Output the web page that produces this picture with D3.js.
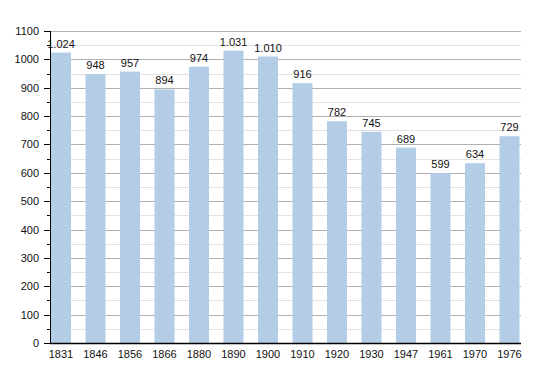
<!DOCTYPE html>
<html>
<head>
<meta charset="utf-8">
<script src="https://cdn.jsdelivr.net/npm/d3@7"></script>
<style>
  body { margin: 0; background: #fff; }
  svg { display: block; font-family: "Liberation Sans", Arial, sans-serif; }
</style>
</head>
<body>
<div id="chart"></div>
<script>
const years = ['1831', '1846', '1856', '1866', '1880', '1890', '1900', '1910', '1920', '1930', '1947', '1961', '1970', '1976'];
const population = [1024, 948, 957, 894, 974, 1031, 1010, 916, 782, 745, 689, 599, 634, 729];
const yTicks = d3.range(0, 1101, 100);
const yMinorTicks = d3.range(50, 1100, 100);

const width = 550;
const height = 373;
const plot = { left: 50, right: 521, top: 31, bottom: 343 };

const svg = d3.select('#chart').append('svg')
  .attr('width', width)
  .attr('height', height);

const x = d3.scaleBand()
  .domain(years)
  .range([plot.left + 1, 519.5])
  .paddingInner(0.42)
  .paddingOuter(0);

const y = d3.scaleLinear()
  .domain([0, 1100])
  .range([plot.bottom, plot.top]);

const py = d => Math.round(y(d)) + 0.5;

// grid
svg.append('g')
  .selectAll('line')
  .data(yMinorTicks)
  .join('line')
  .attr('x1', plot.left)
  .attr('x2', plot.right)
  .attr('y1', py)
  .attr('y2', py)
  .attr('stroke', '#e2e2e2');

svg.append('g')
  .selectAll('line')
  .data(yTicks.filter(d => d > 0))
  .join('line')
  .attr('x1', plot.left)
  .attr('x2', plot.right)
  .attr('y1', py)
  .attr('y2', py)
  .attr('stroke', '#b0b0b0');

// bars
svg.append('g')
  .selectAll('rect')
  .data(population)
  .join('rect')
  .attr('x', (d, i) => x(years[i]))
  .attr('y', d => y(d))
  .attr('width', x.bandwidth())
  .attr('height', d => plot.bottom - y(d))
  .attr('fill', '#b3cde7');

// value labels
svg.append('g')
  .selectAll('text')
  .data(population)
  .join('text')
  .attr('x', (d, i) => x(years[i]) + x.bandwidth() / 2)
  .attr('y', d => y(d) - 5)
  .attr('text-anchor', 'middle')
  .attr('font-size', 11)
  .attr('fill', '#111')
  .text(d => d3.format(',')(d).replace(',', '.'));

// y axis
const yAxis = svg.append('g');
yAxis.append('line')
  .attr('x1', plot.left + 0.5).attr('x2', plot.left + 0.5)
  .attr('y1', plot.top).attr('y2', plot.bottom)
  .attr('stroke', '#000');
yAxis.selectAll('line.tick')
  .data(yTicks)
  .join('line')
  .attr('class', 'tick')
  .attr('x1', plot.left - 6).attr('x2', plot.left)
  .attr('y1', py)
  .attr('y2', py)
  .attr('stroke', '#000');
yAxis.selectAll('line.mtick')
  .data(yMinorTicks)
  .join('line')
  .attr('class', 'mtick')
  .attr('x1', plot.left - 3).attr('x2', plot.left)
  .attr('y1', py)
  .attr('y2', py)
  .attr('stroke', '#000');
yAxis.selectAll('text')
  .data(yTicks)
  .join('text')
  .attr('x', 39)
  .attr('y', d => y(d) + 4)
  .attr('text-anchor', 'end')
  .attr('font-size', 11)
  .attr('fill', '#111')
  .text(d => d);

// x axis
const xAxis = svg.append('g');
xAxis.append('line')
  .attr('x1', plot.left).attr('x2', plot.right)
  .attr('y1', plot.bottom + 0.5).attr('y2', plot.bottom + 0.5)
  .attr('stroke', '#000')
  .attr('stroke-width', 1.5);
xAxis.selectAll('text')
  .data(years)
  .join('text')
  .attr('x', d => x(d) + x.bandwidth() / 2)
  .attr('y', plot.bottom + 15)
  .attr('text-anchor', 'middle')
  .attr('font-size', 11)
  .attr('fill', '#111')
  .text(d => d);
</script>
</body>
</html>
